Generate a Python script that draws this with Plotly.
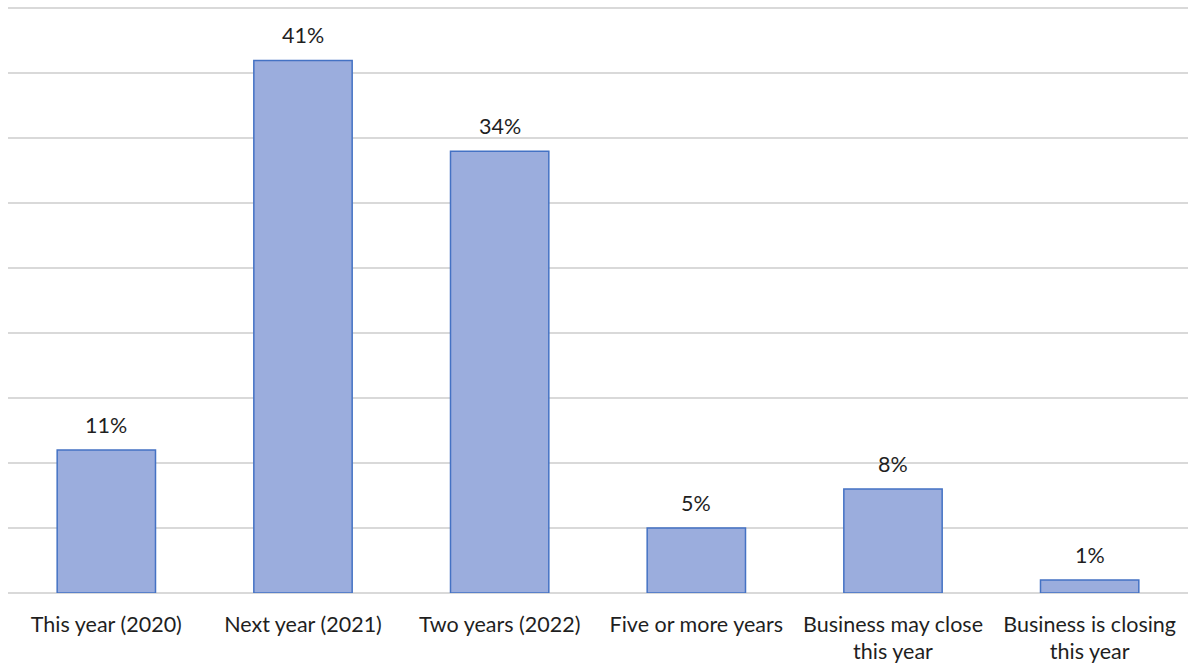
import plotly.graph_objects as go

categories = ["This year (2020)", "Next year (2021)", "Two years (2022)",
              "Five or more years", "Business may close<br>this year",
              "Business is closing<br>this year"]
values = [11, 41, 34, 5, 8, 1]
value_labels = ["11%", "41%", "34%", "5%", "8%", "1%"]

FONT = "Lato"

fig = go.Figure()
fig.add_trace(go.Bar(
    x=categories, y=values,
    marker=dict(color="#9BADDD", line=dict(color="#4472C4", width=1.5)),
    width=0.5,
    hoverinfo="skip",
))

for c, v, t in zip(categories, values, value_labels):
    fig.add_annotation(x=c, y=v, text=t, showarrow=False, yanchor="bottom",
                       yshift=10, font=dict(family=FONT, size=21.5, color="#1f1f1f"))

fig.update_layout(
    width=1188, height=666,
    margin=dict(l=8, r=0, t=2, b=73),
    plot_bgcolor="white", paper_bgcolor="white",
    showlegend=False,
    bargap=0.5,
    xaxis=dict(tickfont=dict(family=FONT, size=21.5, color="#1f1f1f"),
               showgrid=False, ticks="", ticklabelstandoff=16),
    yaxis=dict(range=[0, 45.5], tickvals=list(range(0, 50, 5)),
               showticklabels=False, showgrid=True,
               gridcolor="#D9D9D9", gridwidth=1.5, zeroline=True,
               zerolinecolor="#D9D9D9", zerolinewidth=1.5),
)

fig.write_html("out.html")
